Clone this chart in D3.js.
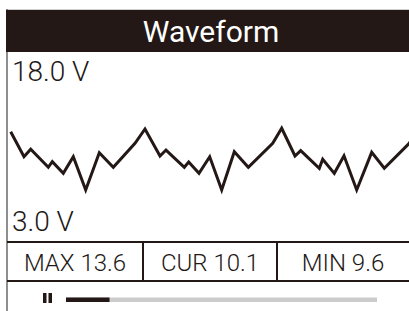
<!DOCTYPE html>
<html>
<head>
<meta charset="utf-8">
<script src="https://cdn.jsdelivr.net/npm/d3@7"></script>
<style>
	html, body { margin: 0; padding: 0; background: #fff; }
	svg { display: block; }
	text { font-family: Roboto, "Noto Sans", sans-serif; }
</style>
</head>
<body>
<svg width="409" height="311"></svg>
<script>
// waveform samples (time in px-ish units, volts)
var times = [0.7, 14, 20.7, 38.3, 42.3, 53.3, 63.3, 75.7, 89.3, 103.3, 125, 135, 150, 156, 174.3, 178.7, 189, 199.7, 211.7, 224.3, 238.3, 262.7, 271.7, 285, 290.7, 309.3, 312.7, 324.3, 334, 346.7, 361.7, 374.3, 399.2, 408.2];
var volts = [11.71, 9.73, 10.32, 8.90, 9.34, 8.42, 9.73, 7.11, 10.05, 8.90, 10.79, 11.92, 9.79, 10.26, 8.90, 9.32, 8.42, 9.73, 7.11, 10.13, 8.90, 10.79, 11.98, 9.79, 10.21, 8.82, 9.53, 8.42, 9.81, 7.11, 10.08, 8.82, 10.79, 11.98];
var yTicks = [3.0, 18.0];
var statNames = ["MAX", "CUR", "MIN"];
var statValues = [13.6, 10.1, 9.6];
var title = "Waveform";
var progress = 0.14;

var svg = d3.select("svg");
var width = +svg.attr("width");
var height = +svg.attr("height");
var ink = "#231815";
var left = 7;

var x = d3.scaleLinear().domain([0, 398]).range([10, 408]);
var y = d3.scaleLinear().domain(d3.extent(yTicks)).range([242, 52]);

// frame
svg.append("line")
	.attr("x1", left).attr("x2", width)
	.attr("y1", 9.5).attr("y2", 9.5)
	.attr("stroke", "#cfcfcf");
svg.append("line")
	.attr("x1", left).attr("x2", left)
	.attr("y1", 9).attr("y2", height)
	.attr("stroke", "#6a6a6a")
	.attr("stroke-width", 1.5);

// title bar
svg.append("rect")
	.attr("x", left - 1).attr("y", 10)
	.attr("width", width - left + 1).attr("height", 42)
	.attr("fill", ink);
svg.append("text")
	.attr("x", 211).attr("y", 42)
	.attr("text-anchor", "middle")
	.attr("font-size", 30)
	.attr("fill", "#fff")
	.text(title);

// scale labels
svg.selectAll(".ylab")
	.data(yTicks)
	.enter().append("text")
	.attr("class", "ylab")
	.attr("x", 12)
	.attr("y", d => d === d3.max(yTicks) ? y(d) + 29 : y(d) - 11)
	.attr("font-size", 28)
	.attr("font-weight", 300)
	.attr("fill", ink)
	.text(d => d.toFixed(1) + " V");

// wave
svg.append("clipPath").attr("id", "clip")
	.append("rect")
	.attr("x", left).attr("y", 52)
	.attr("width", width - left).attr("height", 190);

var line = d3.line()
	.x((d, i) => x(times[i]))
	.y(d => y(d));

svg.append("path")
	.datum(volts)
	.attr("clip-path", "url(#clip)")
	.attr("d", line)
	.attr("fill", "none")
	.attr("stroke", ink)
	.attr("stroke-width", 3)
	.attr("stroke-linejoin", "miter");

// stats row
var cells = d3.scaleOrdinal().domain(statNames).range([[left, 143], [143, 277], [277, width]]);

[242, 281].forEach(yy => {
	svg.append("line")
		.attr("x1", left).attr("x2", width)
		.attr("y1", yy).attr("y2", yy)
		.attr("stroke", ink)
		.attr("stroke-width", 2);
});
[143, 277].forEach(xx => {
	svg.append("line")
		.attr("x1", xx).attr("x2", xx)
		.attr("y1", 242).attr("y2", 281)
		.attr("stroke", ink)
		.attr("stroke-width", 2);
});

svg.selectAll(".stat")
	.data(statNames)
	.enter().append("text")
	.attr("class", "stat")
	.attr("x", d => (cells(d)[0] + cells(d)[1]) / 2)
	.attr("y", 270.5)
	.attr("text-anchor", "middle")
	.attr("font-size", 24)
	.attr("font-weight", 300)
	.attr("fill", ink)
	.text((d, i) => d + " " + statValues[i]);

// playback bar
svg.append("rect").attr("x", 43).attr("y", 293).attr("width", 3.5).attr("height", 10).attr("fill", ink);
svg.append("rect").attr("x", 48.5).attr("y", 293).attr("width", 3.5).attr("height", 10).attr("fill", ink);

var p = d3.scaleLinear().domain([0, 1]).range([66, 377]);
svg.append("rect")
	.attr("x", p(0)).attr("y", 297.5)
	.attr("width", p(1) - p(0)).attr("height", 4.5)
	.attr("fill", "#cccccc");
svg.append("rect")
	.attr("x", p(0)).attr("y", 297.5)
	.attr("width", p(progress) - p(0)).attr("height", 4.5)
	.attr("fill", ink);
</script>
</body>
</html>
